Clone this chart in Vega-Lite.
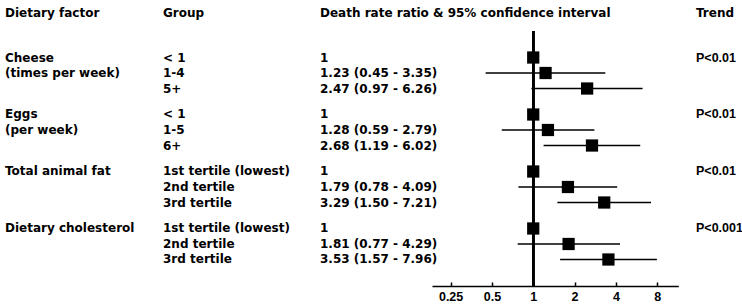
{
  "$schema": "https://vega.github.io/schema/vega-lite/v6.json",
  "padding": {"left": 5, "top": 7, "right": 0, "bottom": 0},
  "bounds": "flush",
  "spacing": 17,
  "background": "white",
  "config": {
    "view": {"stroke": null},
    "font": "DejaVu Sans",
    "title": {"anchor": "start", "fontSize": 12, "fontWeight": "bold", "font": "DejaVu Sans", "baseline": "alphabetic", "offset": 11, "color": "black", "limit": 0},
    "text": {"font": "DejaVu Sans", "fontSize": 12, "fontWeight": "bold", "align": "left", "baseline": "middle", "color": "black"}
  },
  "data": {"values": [
    {"factor": "Cheese", "level": "1", "factorLabel": "Cheese", "group": "< 1", "est": 1, "lo": null, "hi": null, "estLabel": "1", "trend": "P<0.01"},
    {"factor": "Cheese", "level": "2", "factorLabel": "(times per week)", "group": "1-4", "est": 1.23, "lo": 0.45, "hi": 3.35, "estLabel": "1.23  (0.45 - 3.35)", "trend": ""},
    {"factor": "Cheese", "level": "3", "factorLabel": "", "group": "5+", "est": 2.47, "lo": 0.97, "hi": 6.26, "estLabel": "2.47  (0.97 - 6.26)", "trend": ""},
    {"factor": "Eggs", "level": "1", "factorLabel": "Eggs", "group": "< 1", "est": 1, "lo": null, "hi": null, "estLabel": "1", "trend": "P<0.01"},
    {"factor": "Eggs", "level": "2", "factorLabel": "(per week)", "group": "1-5", "est": 1.28, "lo": 0.59, "hi": 2.79, "estLabel": "1.28  (0.59 - 2.79)", "trend": ""},
    {"factor": "Eggs", "level": "3", "factorLabel": "", "group": "6+", "est": 2.68, "lo": 1.19, "hi": 6.02, "estLabel": "2.68  (1.19 - 6.02)", "trend": ""},
    {"factor": "Total animal fat", "level": "1", "factorLabel": "Total animal fat", "group": "1st tertile (lowest)", "est": 1, "lo": null, "hi": null, "estLabel": "1", "trend": "P<0.01"},
    {"factor": "Total animal fat", "level": "2", "factorLabel": "", "group": "2nd tertile", "est": 1.79, "lo": 0.78, "hi": 4.09, "estLabel": "1.79  (0.78 - 4.09)", "trend": ""},
    {"factor": "Total animal fat", "level": "3", "factorLabel": "", "group": "3rd tertile", "est": 3.29, "lo": 1.50, "hi": 7.21, "estLabel": "3.29  (1.50 - 7.21)", "trend": ""},
    {"factor": "Dietary cholesterol", "level": "1", "factorLabel": "Dietary cholesterol", "group": "1st tertile (lowest)", "est": 1, "lo": null, "hi": null, "estLabel": "1", "trend": "P<0.001"},
    {"factor": "Dietary cholesterol", "level": "2", "factorLabel": "", "group": "2nd tertile", "est": 1.81, "lo": 0.77, "hi": 4.29, "estLabel": "1.81  (0.77 - 4.29)", "trend": ""},
    {"factor": "Dietary cholesterol", "level": "3", "factorLabel": "", "group": "3rd tertile", "est": 3.53, "lo": 1.57, "hi": 7.96, "estLabel": "3.53  (1.57 - 7.96)", "trend": ""}
  ]},
  "hconcat": [
    {
      "width": 141, "height": 255,
      "title": {"text": "Dietary factor"},
      "mark": {"type": "text"},
      "encoding": {
        "x": {"value": 0},
        "y": {"field": "factor", "type": "nominal", "sort": ["Cheese", "Eggs", "Total animal fat", "Dietary cholesterol"], "axis": null, "scale": {"paddingInner": 0.184, "paddingOuter": 0.329}},
        "yOffset": {"field": "level", "type": "ordinal", "scale": {"paddingInner": 0, "paddingOuter": 0}},
        "text": {"field": "factorLabel"}
      }
    },
    {
      "width": 140, "height": 255,
      "title": {"text": "Group"},
      "mark": {"type": "text"},
      "encoding": {
        "x": {"value": 0},
        "y": {"field": "factor", "type": "nominal", "sort": ["Cheese", "Eggs", "Total animal fat", "Dietary cholesterol"], "axis": null, "scale": {"paddingInner": 0.184, "paddingOuter": 0.329}},
        "yOffset": {"field": "level", "type": "ordinal", "scale": {"paddingInner": 0, "paddingOuter": 0}},
        "text": {"field": "group"}
      }
    },
    {
      "width": 94.7, "height": 255,
      "title": {"text": "Death rate ratio & 95% confidence interval"},
      "mark": {"type": "text"},
      "encoding": {
        "x": {"value": 0},
        "y": {"field": "factor", "type": "nominal", "sort": ["Cheese", "Eggs", "Total animal fat", "Dietary cholesterol"], "axis": null, "scale": {"paddingInner": 0.184, "paddingOuter": 0.329}},
        "yOffset": {"field": "level", "type": "ordinal", "scale": {"paddingInner": 0, "paddingOuter": 0}},
        "text": {"field": "estLabel"}
      }
    },
    {
      "width": 246.3, "height": 255,
      "layer": [
        {
          "mark": {"type": "rule", "strokeWidth": 2, "color": "black"},
          "encoding": {"x": {"datum": 1, "type": "quantitative"}}
        },
        {
          "mark": {"type": "rule", "strokeWidth": 1.6, "color": "black"},
          "encoding": {
            "x": {"field": "lo", "type": "quantitative", "scale": {"type": "log", "base": 2, "domain": [0.183, 11.4], "nice": false, "zero": false},
                  "axis": {"values": [0.25, 0.5, 1, 2, 4, 8], "format": "~g", "grid": false, "title": null, "domainColor": "black", "domainWidth": 1.5, "tickColor": "black", "tickWidth": 1.5, "tickSize": -4, "labelPadding": 8, "labelFont": "Liberation Sans", "labelFontSize": 12.5, "labelFontWeight": "bold", "labelColor": "black"}},
            "x2": {"field": "hi"},
            "y": {"field": "factor", "type": "nominal", "sort": ["Cheese", "Eggs", "Total animal fat", "Dietary cholesterol"], "axis": null, "scale": {"paddingInner": 0.184, "paddingOuter": 0.329}},
            "yOffset": {"field": "level", "type": "ordinal", "scale": {"paddingInner": 0, "paddingOuter": 0}}
          }
        },
        {
          "mark": {"type": "point", "shape": "square", "filled": true, "size": 150, "color": "black", "opacity": 1},
          "encoding": {
            "x": {"field": "est", "type": "quantitative"},
            "y": {"field": "factor", "type": "nominal", "sort": ["Cheese", "Eggs", "Total animal fat", "Dietary cholesterol"], "axis": null},
            "yOffset": {"field": "level", "type": "ordinal"}
          }
        }
      ]
    },
    {
      "width": 47, "height": 255,
      "title": {"text": "Trend"},
      "mark": {"type": "text", "font": "Liberation Sans", "fontSize": 12.5},
      "encoding": {
        "x": {"value": 0},
        "y": {"field": "factor", "type": "nominal", "sort": ["Cheese", "Eggs", "Total animal fat", "Dietary cholesterol"], "axis": null, "scale": {"paddingInner": 0.184, "paddingOuter": 0.329}},
        "yOffset": {"field": "level", "type": "ordinal", "scale": {"paddingInner": 0, "paddingOuter": 0}},
        "text": {"field": "trend"}
      }
    }
  ]
}
